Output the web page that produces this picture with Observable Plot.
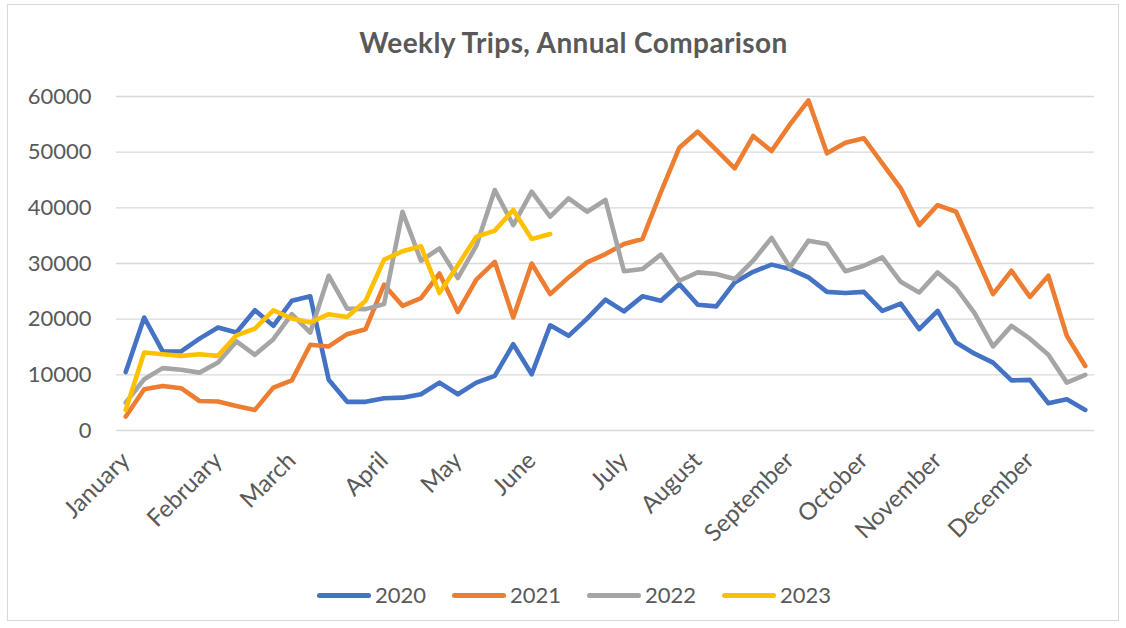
<!DOCTYPE html>
<html><head><meta charset="utf-8">
<script src="https://cdn.jsdelivr.net/npm/d3@7"></script>
<script src="https://cdn.jsdelivr.net/npm/@observablehq/plot@0.6"></script>
<style>
body{margin:0;background:#fff;font-family:Lato,sans-serif;width:1126px;height:628px;overflow:hidden;}
#frame{position:absolute;left:7px;top:4px;width:1112px;height:617px;border:1px solid #d9d9d9;box-sizing:border-box;}
#title{position:absolute;left:0;width:1147px;top:25px;text-align:center;font-weight:bold;font-size:28px;letter-spacing:0.4px;line-height:34px;color:#595959;}
#chart{position:absolute;left:0;top:60px;}
#legend{position:absolute;top:582px;left:317px;display:flex;font-size:22px;line-height:26px;color:#595959;}
.item{display:flex;align-items:center;width:135px;}
.sw{width:54px;height:5px;border-radius:3px;margin-right:4px;}
</style></head>
<body>
<div id="frame"></div>
<div id="title">Weekly Trips, Annual Comparison</div>
<div id="chart"></div>
<div id="legend"></div>
<script>
const years = ["2020", "2021", "2022", "2023"];
const colors = ["#4472C4", "#ED7D31", "#A5A5A5", "#FFC000"];
const monthNames = ["January","February","March","April","May","June","July","August","September","October","November","December"];
const monthWeeks = [0, 5, 9, 14, 18, 22, 27, 31, 36, 40, 44, 49];
const yTicks = [0, 10000, 20000, 30000, 40000, 50000, 60000];

const y2020 = [10500, 20300, 14200, 14200, 16500, 18500, 17600, 21600, 18800, 23300, 24100, 9100, 5150, 5150, 5800, 5900, 6500, 8600, 6500, 8600, 9800, 15500, 10100, 18900, 17000, 20100, 23500, 21400, 24100, 23300, 26300, 22600, 22300, 26600, 28500, 29800, 29000, 27500, 24900, 24700, 24900, 21500, 22800, 18200, 21500, 15800, 13800, 12200, 9000, 9100, 4900, 5600, 3700];
const y2021 = [2500, 7400, 8000, 7600, 5300, 5200, 4400, 3700, 7700, 9000, 15400, 15100, 17300, 18200, 26200, 22400, 23800, 28200, 21300, 27100, 30300, 20300, 30000, 24500, 27500, 30200, 31700, 33500, 34400, 42800, 50800, 53700, 50400, 47100, 52900, 50200, 55000, 59300, 49800, 51700, 52500, 48000, 43500, 36900, 40500, 39300, 31900, 24500, 28700, 24000, 27800, 17000, 11600];
const y2022 = [5000, 9200, 11200, 10900, 10400, 12200, 16000, 13600, 16400, 20900, 17600, 27800, 21900, 21800, 22700, 39300, 30500, 32700, 27400, 33200, 43200, 36900, 42900, 38400, 41700, 39300, 41400, 28600, 29000, 31600, 26900, 28400, 28100, 27200, 30500, 34600, 29300, 34100, 33500, 28600, 29600, 31100, 26700, 24800, 28400, 25600, 21100, 15100, 18800, 16500, 13600, 8600, 10000];
const y2023 = [3700, 14000, 13700, 13400, 13700, 13400, 17100, 18300, 21600, 20100, 19400, 20900, 20400, 23300, 30700, 32200, 33100, 24700, 29700, 34800, 35900, 39600, 34400, 35300];

const seriesValues = [y2020, y2021, y2022, y2023];
const data = years.flatMap((yr, k) => seriesValues[k].map((v, i) => ({year: yr, week: i, trips: v})));

const chart = Plot.plot({
  width: 1126, height: 500,
  marginLeft: 116, marginRight: 32, marginTop: 36, marginBottom: 130,
  style: {fontFamily: "Lato, sans-serif", fontSize: "22px", color: "#595959", background: "transparent", overflow: "visible"},
  x: {domain: [-0.5, 52.5]},
  y: {domain: [0, 60000]},
  color: {domain: years, range: colors},
  marks: [
    Plot.gridY({ticks: yTicks, stroke: "#d9d9d9", strokeOpacity: 1, strokeWidth: 1.3}),
    Plot.axisY({ticks: yTicks, tickSize: 0, tickPadding: 25, tickFormat: d => String(d), label: null}),
    Plot.axisX({ticks: monthWeeks, tickFormat: d => monthNames[monthWeeks.indexOf(d)], tickRotate: -45, tickSize: 0, tickPadding: 26, fontSize: 24, label: null}),
    Plot.line(data, {x: "week", y: "trips", z: "year", stroke: "year", strokeWidth: 4.6, strokeLinejoin: "round", strokeLinecap: "round"})
  ]
});
document.getElementById("chart").appendChild(chart);

const legend = document.getElementById("legend");
years.forEach((yr, k) => {
  const it = document.createElement("div");
  it.className = "item";
  const sw = document.createElement("div");
  sw.className = "sw";
  sw.style.background = colors[k];
  const tx = document.createElement("span");
  tx.textContent = yr;
  it.appendChild(sw); it.appendChild(tx);
  legend.appendChild(it);
});
</script>
</body></html>
